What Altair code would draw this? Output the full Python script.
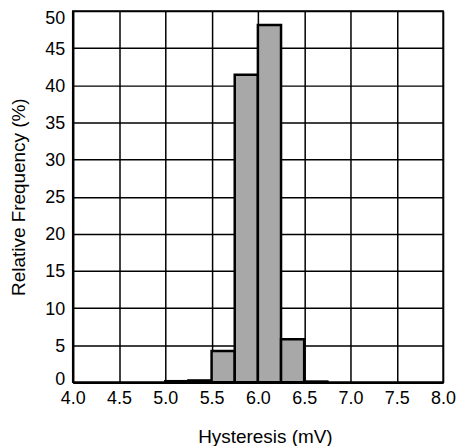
import altair as alt
import pandas as pd

# Histogram bins (mV) and relative frequency (%)
bin_start = [5.0, 5.25, 5.5, 5.75, 6.0, 6.25, 6.5]
bin_end = [5.25, 5.5, 5.75, 6.0, 6.25, 6.5, 6.75]
frequency = [0.15, 0.25, 4.2, 41.4, 48.1, 5.8, 0.1]

x_ticks = [4.0, 4.5, 5.0, 5.5, 6.0, 6.5, 7.0, 7.5, 8.0]
y_ticks = [0, 5, 10, 15, 20, 25, 30, 35, 40, 45, 50]

df = pd.DataFrame({"start": bin_start, "end": bin_end, "freq": frequency})

FONT = "Liberation Sans"

chart = alt.Chart(df).mark_bar(
    color="#a8a8a8", stroke="black", strokeWidth=2.5, strokeJoin="miter"
).encode(
    x=alt.X(
        "start:Q",
        scale=alt.Scale(domain=[4, 8], nice=False, zero=False),
        axis=alt.Axis(
            values=x_ticks, format=".1f", title="Hysteresis (mV)",
            grid=True, gridColor="black", gridWidth=1.5, gridOpacity=1,
            domain=True, domainColor="black", domainWidth=2.5,
            ticks=False, labelPadding=7, labelFont=FONT, labelFontSize=18,
            labelColor="black", labelOverlap=False, labelBound=False, labelFlush=False,
            titleFont=FONT, titleFontSize=19, titleFontWeight="normal", titleColor="black",
            titleX=193, titleY=60, titleBaseline="alphabetic", titleAlign="center",
        ),
    ),
    x2="end:Q",
    y=alt.Y(
        "freq:Q",
        scale=alt.Scale(domain=[0, 50], nice=False),
        axis=alt.Axis(
            values=y_ticks, title="Relative Frequency (%)",
            grid=True, gridColor="black", gridWidth=1.5, gridOpacity=1,
            domain=True, domainColor="black", domainWidth=2.5,
            ticks=False, labelPadding=8, labelFont=FONT, labelFontSize=18,
            labelColor="black", labelOverlap=False, labelBound=False, labelFlush=False,
            labelOffset={"expr": "datum.value == 50 ? 7.5 : (datum.value == 0 ? -3 : 1)"},
            titleFont=FONT, titleFontSize=19, titleFontWeight="normal", titleColor="black",
            titleAngle=270, titleX=-48, titleY=186.5, titleBaseline="alphabetic",
            titleAlign="center",
        ),
    ),
    y2=alt.datum(0),
).properties(
    width=372, height=373,
    autosize=alt.AutoSizeParams(type="none"),
    padding={"left": 65, "top": 2, "right": 14, "bottom": 63},
).configure_view(
    stroke="black", strokeWidth=1.5
)

chart.save("out.html", embed_options={"renderer": "svg", "actions": False})
